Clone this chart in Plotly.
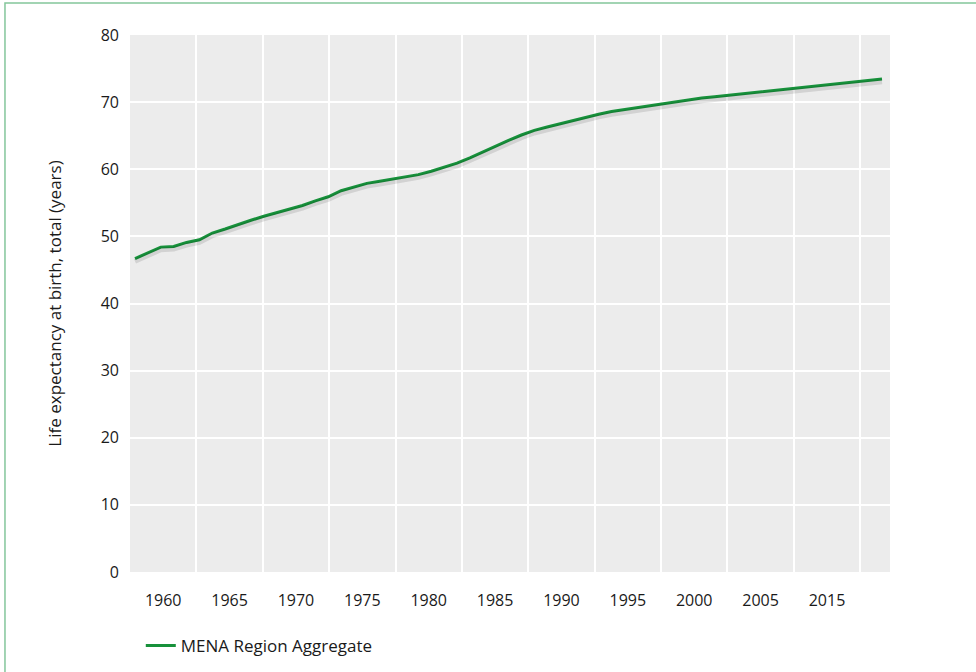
"""
MENA life expectancy line chart (Plotly)
"""
import plotly.graph_objects as go

# data
years = list(range(1960, 2019))
life_expectancy = [
    46.7, 47.6, 48.4, 48.5, 49.1, 49.5, 50.5, 51.1, 51.8, 52.4,
    53.0, 53.5, 54.0, 54.6, 55.3, 55.9, 56.8, 57.4, 57.9, 58.2,
    58.5, 58.9, 59.2, 59.7, 60.3, 60.9, 61.7, 62.6, 63.5, 64.3,
    65.1, 65.8, 66.3, 66.8, 67.3, 67.8, 68.2, 68.6, 68.9, 69.2,
    69.5, 69.8, 70.1, 70.3, 70.6, 70.8, 71.0, 71.2, 71.5, 71.7,
    71.9, 72.1, 72.3, 72.5, 72.7, 72.8, 73.0, 73.2, 73.45,
]
x_labels = ["1960", "1965", "1970", "1975", "1980", "1985",
            "1990", "1995", "2000", "2005", "2015"]
y_ticks = [0, 10, 20, 30, 40, 50, 60, 70, 80]
series_name = "MENA Region Aggregate"

LINE = "#17913b"
FONT = "Open Sans, Noto Sans, sans-serif"

# x axis in years; label slots are a little wider than 5 years
x_left, x_right = 1959.61, 2018.62
slot = 5.154
label_pos = [x_left + (i + 0.5) * slot for i in range(len(x_labels))]

fig = go.Figure()

# soft drop shadow under the line
fig.add_trace(go.Scatter(
    x=years, y=life_expectancy, yaxis="y2",
    mode="lines", line=dict(color="rgba(0,0,0,0.11)", width=5),
    showlegend=False, hoverinfo="skip",
))

fig.add_trace(go.Scatter(
    x=years, y=life_expectancy,
    mode="lines", line=dict(color=LINE, width=3),
    name=series_name,
))

fig.update_layout(
    width=976, height=672,
    margin=dict(l=130, r=86, t=35, b=100, autoexpand=False),
    paper_bgcolor="white",
    plot_bgcolor="#ececec",
    font=dict(family=FONT, size=16, color="#1a1a1a"),
    xaxis=dict(
        range=[x_left, x_right], automargin=False,
        tickmode="array", tickvals=label_pos, ticktext=x_labels,
        showgrid=False, zeroline=False, showline=False,
        ticks="", ticklabelstandoff=17,
        tickfont=dict(size=16),
        minor=dict(tick0=x_left, dtick=slot, showgrid=True,
                   gridcolor="white", gridwidth=2),
    ),
    yaxis=dict(
        range=[0, 80], tickvals=y_ticks, automargin=False,
        showgrid=True, gridcolor="white", gridwidth=2,
        zeroline=False, showline=False,
        ticks="", ticklabelstandoff=10,
        tickfont=dict(size=16),
        title=dict(text="Life expectancy at birth, total (years)",
                   font=dict(size=17), standoff=34),
    ),
    yaxis2=dict(
        overlaying="y", range=[0.4, 80.4], visible=False,
    ),
    showlegend=True,
    legend=dict(
        orientation="h", x=0.0142, xanchor="left",
        yref="container", y=1 - 646 / 672, yanchor="middle",
        font=dict(size=17), bgcolor="rgba(0,0,0,0)",
    ),
    shapes=[dict(
        type="rect", xref="paper", yref="paper",
        x0=-0.1645, x1=1.3, y0=-0.3, y1=1.0596,
        line=dict(color="#84c69b", width=1.5),
        fillcolor="rgba(0,0,0,0)", layer="below",
    )],
)

fig.write_html("out.html", config={"displayModeBar": False},
               post_script="document.body.style.margin='0';")
